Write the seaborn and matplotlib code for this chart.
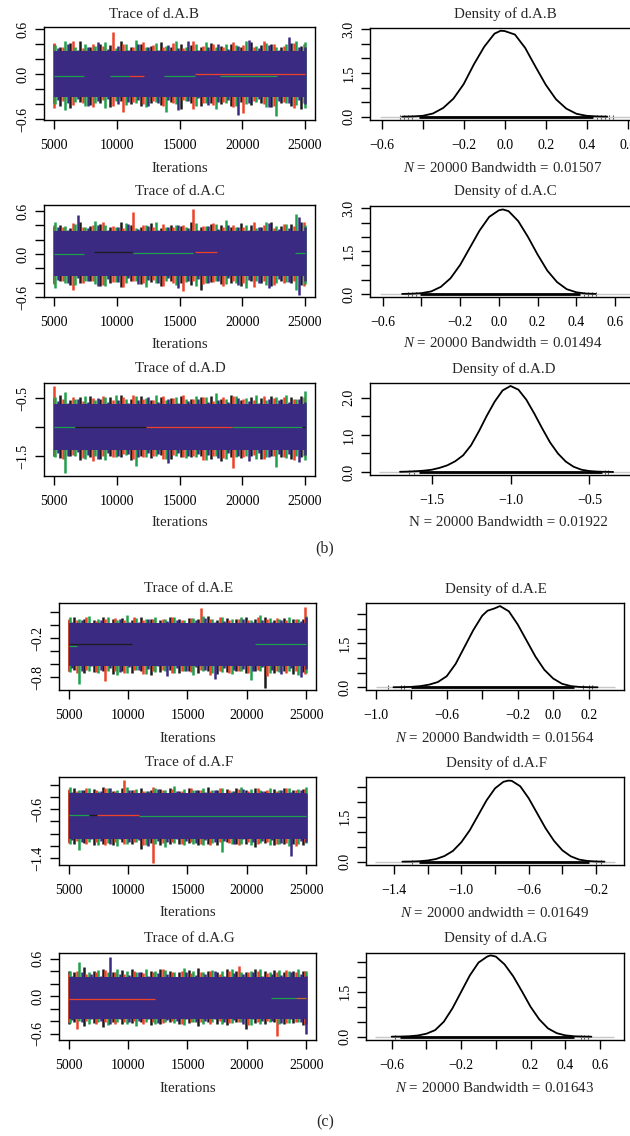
import numpy as np
import matplotlib
matplotlib.use("Agg")
import matplotlib.pyplot as plt
import seaborn as sns

W, H, DPI = 630, 1136, 100

# ---------------- data ----------------
ITER = list(range(5000, 25001, 800))   # 26 sample columns along each chain

# d.A.B
B_CORE = (-0.30, 0.31)                  # solid band where all chains overlap
B_K_HI = [0.40,0.36,0.42,0.45,0.37,0.41,0.39,0.44,0.36,0.40,0.38,0.43,0.37,0.41,0.39,0.36,0.42,0.38,0.40,0.37,0.43,0.39,0.41,0.36,0.42,0.38]
B_K_LO = [-0.38,-0.42,-0.45,-0.37,-0.41,-0.39,-0.44,-0.36,-0.40,-0.43,-0.38,-0.41,-0.37,-0.46,-0.39,-0.42,-0.38,-0.40,-0.43,-0.37,-0.41,-0.39,-0.44,-0.38,-0.42,-0.47]
B_R_HI = [0.42,0.37,0.44,0.35,0.41,0.38,0.56,0.40,0.36,0.43,0.39,0.37,0.42,0.35,0.45,0.38,0.41,0.36,0.43,0.39,0.37,0.44,0.40,0.38,0.42,0.41]
B_R_LO = [-0.45,-0.36,-0.41,-0.38,-0.44,-0.35,-0.42,-0.50,-0.37,-0.40,-0.36,-0.43,-0.39,-0.35,-0.46,-0.38,-0.41,-0.37,-0.44,-0.52,-0.36,-0.40,-0.43,-0.37,-0.45,-0.39]
B_G_HI = [0.39,0.44,0.36,0.41,0.38,0.43,0.35,0.40,0.46,0.37,0.42,0.38,0.44,0.36,0.40,0.43,0.37,0.41,0.39,0.45,0.38,0.42,0.36,0.40,0.44,0.43]
B_G_LO = [-0.40,-0.48,-0.37,-0.42,-0.39,-0.45,-0.36,-0.41,-0.38,-0.44,-0.37,-0.50,-0.40,-0.36,-0.43,-0.39,-0.47,-0.38,-0.42,-0.40,-0.37,-0.44,-0.56,-0.39,-0.41,-0.45]
B_P_HI = [0.35,0.40,0.33,0.37,0.43,0.34,0.38,0.33,0.41,0.36,0.32,0.39,0.35,0.44,0.33,0.37,0.40,0.34,0.38,0.46,0.35,0.39,0.33,0.50,0.37,0.36]
B_P_LO = [-0.34,-0.39,-0.33,-0.43,-0.36,-0.33,-0.40,-0.37,-0.35,-0.42,-0.38,-0.34,-0.48,-0.36,-0.32,-0.41,-0.37,-0.35,-0.54,-0.39,-0.33,-0.44,-0.36,-0.38,-0.35,-0.40]
B_FLAT = [(5000, 7400, -0.03, "green"), (9500, 11000, -0.03, "green"), (11000, 12200, -0.03, "red"),
          (13800, 16200, -0.03, "green"), (16200, 25000, 0.0, "red"), (18200, 22800, -0.03, "green")]

# d.A.C
C_CORE = (-0.31, 0.32)
C_K_HI = [0.38,0.41,0.36,0.44,0.39,0.42,0.37,0.45,0.40,0.38,0.43,0.36,0.41,0.39,0.44,0.37,0.42,0.40,0.38,0.43,0.41,0.37,0.45,0.39,0.42,0.44]
C_K_LO = [-0.40,-0.37,-0.43,-0.41,-0.38,-0.44,-0.40,-0.46,-0.37,-0.42,-0.39,-0.45,-0.38,-0.41,-0.43,-0.50,-0.39,-0.42,-0.40,-0.44,-0.37,-0.41,-0.45,-0.38,-0.40,-0.43]
C_R_HI = [0.41,0.38,0.43,0.37,0.40,0.44,0.39,0.36,0.58,0.41,0.38,0.42,0.37,0.40,0.63,0.39,0.43,0.37,0.41,0.38,0.44,0.40,0.36,0.42,0.39,0.45]
C_R_LO = [-0.42,-0.38,-0.50,-0.40,-0.37,-0.43,-0.39,-0.46,-0.38,-0.41,-0.36,-0.44,-0.40,-0.52,-0.38,-0.42,-0.39,-0.45,-0.37,-0.41,-0.46,-0.38,-0.43,-0.40,-0.37,-0.44]
C_G_HI = [0.44,0.39,0.42,0.37,0.46,0.40,0.38,0.43,0.36,0.41,0.45,0.38,0.40,0.37,0.43,0.39,0.42,0.47,0.38,0.41,0.36,0.44,0.39,0.42,0.56,0.40]
C_G_LO = [-0.48,-0.40,-0.43,-0.38,-0.42,-0.45,-0.39,-0.41,-0.37,-0.46,-0.40,-0.38,-0.43,-0.39,-0.44,-0.41,-0.37,-0.42,-0.40,-0.47,-0.38,-0.43,-0.41,-0.39,-0.50,-0.42]
C_P_HI = [0.37,0.34,0.55,0.36,0.40,0.33,0.38,0.42,0.35,0.39,0.34,0.37,0.41,0.36,0.33,0.39,0.35,0.40,0.37,0.34,0.38,0.43,0.35,0.36,0.52,0.38]
C_P_LO = [-0.36,-0.41,-0.34,-0.38,-0.45,-0.35,-0.39,-0.33,-0.42,-0.36,-0.40,-0.34,-0.47,-0.37,-0.35,-0.41,-0.38,-0.34,-0.43,-0.36,-0.40,-0.48,-0.35,-0.39,-0.57,-0.37]
C_FLAT = [(5000, 7400, 0.0, "green"), (8200, 11200, 0.03, "black"), (11300, 16100, 0.01, "green"),
          (16200, 18000, 0.03, "red"), (24200, 25000, 0.02, "green")]

# d.A.D
D_CORE = (-1.40, -0.60)
D_K_HI = [-0.50,-0.44,-0.53,-0.48,-0.46,-0.52,-0.49,-0.45,-0.51,-0.47,-0.53,-0.48,-0.50,-0.46,-0.52,-0.49,-0.47,-0.51,-0.45,-0.53,-0.48,-0.50,-0.46,-0.52,-0.49,-0.47]
D_K_LO = [-1.49,-1.53,-1.50,-1.56,-1.51,-1.54,-1.49,-1.52,-1.57,-1.50,-1.53,-1.48,-1.55,-1.51,-1.52,-1.50,-1.54,-1.58,-1.51,-1.53,-1.49,-1.55,-1.50,-1.52,-1.54,-1.51]
D_R_HI = [-0.30,-0.52,-0.48,-0.55,-0.50,-0.46,-0.53,-0.49,-0.44,-0.51,-0.54,-0.47,-0.50,-0.45,-0.52,-0.48,-0.55,-0.49,-0.46,-0.51,-0.53,-0.47,-0.50,-0.48,-0.52,-0.49]
D_R_LO = [-1.50,-1.55,-1.48,-1.53,-1.58,-1.49,-1.52,-1.47,-1.55,-1.51,-1.49,-1.54,-1.48,-1.52,-1.50,-1.56,-1.49,-1.53,-1.70,-1.51,-1.48,-1.54,-1.50,-1.52,-1.57,-1.49]
D_G_HI = [-0.48,-0.40,-0.51,-0.46,-0.53,-0.49,-0.44,-0.52,-0.47,-0.50,-0.45,-0.53,-0.48,-0.51,-0.46,-0.49,-0.42,-0.52,-0.47,-0.50,-0.45,-0.53,-0.48,-0.44,-0.51,-0.38]
D_G_LO = [-1.52,-1.78,-1.49,-1.54,-1.50,-1.56,-1.51,-1.48,-1.66,-1.52,-1.50,-1.55,-1.49,-1.53,-1.51,-1.57,-1.50,-1.54,-1.52,-1.49,-1.55,-1.51,-1.68,-1.53,-1.50,-1.56]
D_P_HI = [-0.55,-0.58,-0.52,-0.56,-0.50,-0.57,-0.53,-0.59,-0.54,-0.49,-0.56,-0.52,-0.58,-0.55,-0.51,-0.57,-0.53,-0.56,-0.50,-0.55,-0.58,-0.52,-0.54,-0.57,-0.51,-0.56]
D_P_LO = [-1.45,-1.50,-1.43,-1.48,-1.55,-1.44,-1.49,-1.46,-1.52,-1.45,-1.47,-1.62,-1.44,-1.50,-1.46,-1.48,-1.53,-1.45,-1.49,-1.58,-1.44,-1.51,-1.47,-1.46,-1.60,-1.48]
D_FLAT = [(5000, 6700, -1.0, "green"), (6700, 12300, -0.99, "black"), (12300, 19200, -0.99, "red"),
          (19200, 24800, -0.99, "green"), (24800, 25000, -1.0, "black")]

# d.A.E
E_CORE = (-0.62, 0.03)
E_K_HI = [0.08,0.13,0.10,0.07,0.12,0.09,0.11,0.08,0.13,0.10,0.08,0.12,0.09,0.11,0.10,0.14,0.08,0.11,0.09,0.12,0.10,0.13,0.08,0.11,0.09,0.10]
E_K_LO = [-0.71,-0.69,-0.74,-0.72,-0.70,-0.75,-0.71,-0.73,-0.70,-0.76,-0.72,-0.69,-0.74,-0.71,-0.73,-0.70,-0.75,-0.72,-0.71,-0.74,-0.70,-0.96,-0.73,-0.71,-0.75,-0.72]
E_R_HI = [0.10,0.07,0.12,0.06,0.09,0.11,0.08,0.13,0.07,0.10,0.09,0.12,0.08,0.11,0.26,0.09,0.12,0.07,0.10,0.08,0.13,0.09,0.11,0.07,0.10,0.28]
E_R_LO = [-0.70,-0.74,-0.68,-0.72,-0.85,-0.70,-0.73,-0.69,-0.75,-0.71,-0.68,-0.74,-0.70,-0.72,-0.69,-0.76,-0.71,-0.73,-0.70,-0.74,-0.68,-0.78,-0.71,-0.73,-0.70,-0.75]
E_G_HI = [0.13,0.09,0.14,0.10,0.12,0.08,0.15,0.11,0.09,0.13,0.10,0.12,0.08,0.11,0.14,0.09,0.12,0.10,0.13,0.08,0.16,0.11,0.09,0.12,0.10,0.14]
E_G_LO = [-0.72,-0.90,-0.70,-0.74,-0.71,-0.76,-0.73,-0.69,-0.75,-0.72,-0.70,-0.74,-0.71,-0.77,-0.70,-0.73,-0.72,-0.75,-0.70,-0.84,-0.71,-0.74,-0.72,-0.70,-0.76,-0.73]
E_P_HI = [0.05,0.08,0.03,0.07,0.02,0.10,0.05,0.04,0.09,0.03,0.06,0.08,0.02,0.07,0.11,0.04,0.06,0.03,0.09,0.05,0.07,0.04,0.08,0.03,0.06,0.12]
E_P_LO = [-0.65,-0.70,-0.63,-0.68,-0.66,-0.72,-0.64,-0.69,-0.67,-0.63,-0.78,-0.66,-0.70,-0.64,-0.68,-0.82,-0.65,-0.69,-0.67,-0.71,-0.64,-0.68,-0.75,-0.66,-0.80,-0.67]
E_FLAT = [(5000, 10350, -0.29, "black"), (5000, 5750, -0.32, "green"), (20650, 25000, -0.29, "green")]

# d.A.F
F_CORE = (-1.08, -0.34)
F_K_HI = [-0.28,-0.25,-0.29,-0.27,-0.24,-0.30,-0.26,-0.28,-0.25,-0.29,-0.27,-0.25,-0.30,-0.26,-0.28,-0.24,-0.29,-0.27,-0.26,-0.28,-0.25,-0.30,-0.27,-0.26,-0.29,-0.27]
F_K_LO = [-1.14,-1.17,-1.15,-1.18,-1.16,-1.19,-1.14,-1.17,-1.24,-1.15,-1.18,-1.16,-1.17,-1.15,-1.19,-1.16,-1.18,-1.14,-1.17,-1.16,-1.21,-1.15,-1.18,-1.16,-1.17,-1.19]
F_R_HI = [-0.27,-0.30,-0.25,-0.29,-0.26,-0.31,-0.13,-0.28,-0.30,-0.24,-0.29,-0.27,-0.31,-0.26,-0.28,-0.30,-0.25,-0.29,-0.27,-0.31,-0.26,-0.28,-0.30,-0.25,-0.29,-0.27]
F_R_LO = [-1.15,-1.12,-1.17,-1.14,-1.19,-1.13,-1.16,-1.14,-1.18,-1.47,-1.15,-1.13,-1.17,-1.14,-1.16,-1.19,-1.13,-1.15,-1.18,-1.14,-1.16,-1.13,-1.17,-1.15,-1.20,-1.14]
F_G_HI = [-0.24,-0.28,-0.25,-0.30,-0.26,-0.29,-0.24,-0.27,-0.30,-0.25,-0.28,-0.23,-0.27,-0.29,-0.25,-0.28,-0.26,-0.30,-0.24,-0.27,-0.29,-0.26,-0.28,-0.25,-0.27,-0.24]
F_G_LO = [-1.16,-1.26,-1.14,-1.18,-1.15,-1.20,-1.17,-1.14,-1.19,-1.16,-1.22,-1.15,-1.18,-1.16,-1.19,-1.15,-1.30,-1.17,-1.16,-1.19,-1.15,-1.18,-1.16,-1.20,-1.17,-1.15]
F_P_HI = [-0.32,-0.28,-0.34,-0.30,-0.26,-0.33,-0.29,-0.35,-0.31,-0.27,-0.33,-0.30,-0.36,-0.28,-0.32,-0.29,-0.34,-0.31,-0.27,-0.33,-0.30,-0.35,-0.29,-0.32,-0.28,-0.33]
F_P_LO = [-1.10,-1.14,-1.08,-1.12,-1.16,-1.09,-1.13,-1.10,-1.20,-1.11,-1.14,-1.09,-1.12,-1.15,-1.10,-1.13,-1.11,-1.17,-1.09,-1.14,-1.12,-1.10,-1.15,-1.36,-1.11,-1.13]
F_FLAT = [(5000, 6700, -0.70, "green"), (6700, 7400, -0.70, "black"), (7400, 10900, -0.70, "red"),
          (10900, 25000, -0.71, "green")]

# d.A.G
G_CORE = (-0.36, 0.31)
G_K_HI = [0.41,0.38,0.46,0.40,0.43,0.39,0.42,0.44,0.38,0.41,0.43,0.40,0.39,0.42,0.45,0.40,0.38,0.43,0.41,0.39,0.44,0.40,0.42,0.38,0.41,0.40]
G_K_LO = [-0.44,-0.41,-0.47,-0.43,-0.50,-0.42,-0.45,-0.43,-0.41,-0.46,-0.44,-0.42,-0.45,-0.43,-0.47,-0.41,-0.44,-0.46,-0.42,-0.52,-0.43,-0.45,-0.41,-0.44,-0.43,-0.46]
G_R_HI = [0.37,0.40,0.36,0.39,0.42,0.38,0.36,0.41,0.37,0.39,0.44,0.38,0.40,0.37,0.39,0.41,0.36,0.40,0.48,0.38,0.41,0.37,0.39,0.42,0.38,0.40]
G_R_LO = [-0.42,-0.52,-0.40,-0.44,-0.41,-0.45,-0.42,-0.39,-0.44,-0.41,-0.43,-0.40,-0.45,-0.42,-0.41,-0.44,-0.40,-0.43,-0.41,-0.46,-0.42,-0.40,-0.64,-0.43,-0.41,-0.44]
G_G_HI = [0.40,0.55,0.38,0.42,0.39,0.44,0.41,0.38,0.43,0.40,0.42,0.39,0.45,0.41,0.38,0.42,0.40,0.44,0.39,0.41,0.43,0.38,0.42,0.40,0.44,0.41]
G_G_LO = [-0.43,-0.40,-0.45,-0.42,-0.46,-0.41,-0.44,-0.47,-0.42,-0.45,-0.41,-0.43,-0.46,-0.42,-0.44,-0.41,-0.45,-0.43,-0.42,-0.46,-0.44,-0.41,-0.45,-0.43,-0.42,-0.44]
G_P_HI = [0.33,0.38,0.35,0.32,0.62,0.36,0.34,0.39,0.33,0.37,0.35,0.31,0.38,0.34,0.36,0.40,0.33,0.37,0.35,0.39,0.32,0.36,0.34,0.38,0.35,0.33]
G_P_LO = [-0.38,-0.42,-0.36,-0.40,-0.45,-0.37,-0.41,-0.39,-0.36,-0.43,-0.38,-0.40,-0.37,-0.42,-0.39,-0.36,-0.41,-0.38,-0.44,-0.37,-0.40,-0.39,-0.43,-0.37,-0.41,-0.60]
G_FLAT = [(5000, 12300, -0.04, "red"), (22000, 24100, -0.03, "green"), (24100, 25000, -0.03, "orange")]

# densities
DB_X = [-0.50,-0.45,-0.40,-0.35,-0.30,-0.25,-0.20,-0.15,-0.10,-0.05,-0.02,0.00,0.05,0.10,0.15,0.20,0.25,0.30,0.35,0.40,0.45,0.50]
DB_Y = [0.003,0.01,0.03,0.11,0.30,0.62,1.12,1.80,2.40,2.85,2.95,2.94,2.82,2.36,1.72,1.10,0.60,0.28,0.10,0.03,0.01,0.003]
DC_X = [-0.50,-0.45,-0.40,-0.35,-0.30,-0.25,-0.20,-0.15,-0.10,-0.05,0.00,0.02,0.05,0.10,0.15,0.20,0.25,0.30,0.35,0.40,0.45,0.50]
DC_Y = [0.003,0.01,0.03,0.09,0.25,0.55,1.02,1.62,2.22,2.70,2.93,2.96,2.90,2.55,2.00,1.38,0.82,0.42,0.17,0.06,0.015,0.004]
DD_X = [-1.70,-1.65,-1.60,-1.55,-1.50,-1.45,-1.40,-1.35,-1.30,-1.25,-1.20,-1.15,-1.10,-1.05,-1.00,-0.95,-0.90,-0.85,-0.80,-0.75,-0.70,-0.65,-0.60,-0.55,-0.50,-0.45,-0.40,-0.35]
DD_Y = [0.005,0.01,0.02,0.035,0.06,0.11,0.18,0.29,0.45,0.72,1.10,1.52,1.90,2.20,2.32,2.22,1.95,1.58,1.18,0.80,0.50,0.28,0.14,0.06,0.025,0.01,0.004,0.0]
DE_X = [-0.90,-0.85,-0.80,-0.75,-0.70,-0.65,-0.60,-0.55,-0.50,-0.45,-0.40,-0.37,-0.33,-0.30,-0.25,-0.20,-0.15,-0.10,-0.05,0.00,0.05,0.10,0.15,0.20,0.25]
DE_Y = [0.003,0.006,0.015,0.04,0.09,0.18,0.38,0.80,1.38,1.96,2.45,2.62,2.70,2.78,2.60,2.15,1.60,1.05,0.60,0.30,0.12,0.04,0.012,0.004,0.001]
DF_X = [-1.35,-1.30,-1.25,-1.20,-1.15,-1.10,-1.05,-1.00,-0.95,-0.90,-0.85,-0.80,-0.75,-0.72,-0.70,-0.65,-0.60,-0.55,-0.50,-0.45,-0.40,-0.35,-0.30,-0.25,-0.20,-0.15]
DF_Y = [0.002,0.005,0.015,0.04,0.09,0.19,0.36,0.65,1.05,1.55,2.05,2.45,2.67,2.71,2.70,2.52,2.12,1.62,1.12,0.70,0.38,0.18,0.07,0.025,0.008,0.002]
DG_X = [-0.60,-0.55,-0.50,-0.45,-0.40,-0.35,-0.30,-0.25,-0.20,-0.15,-0.10,-0.05,-0.03,0.00,0.05,0.10,0.15,0.20,0.25,0.30,0.35,0.40,0.45,0.50,0.55]
DG_Y = [0.002,0.005,0.015,0.04,0.10,0.22,0.50,0.95,1.50,2.05,2.48,2.68,2.72,2.68,2.42,2.02,1.52,1.00,0.58,0.28,0.12,0.045,0.015,0.005,0.001]

# extent of the zero line, dense rug and sparse rug points
DB_BASE, DB_RUG, DB_TAIL = (-0.607, 0.70), (-0.42, 0.43), [-0.51, -0.49, -0.47, -0.45, 0.45, 0.47, 0.49, 0.51, 0.53]
DC_BASE, DC_RUG, DC_TAIL = (-0.614, 0.75), (-0.41, 0.42), [-0.47, -0.45, -0.43, 0.44, 0.46, 0.48, 0.50]
DD_BASE, DD_RUG, DD_TAIL = (-1.83, -0.15), (-1.58, -0.42), [-1.64, -1.61, -0.40, -0.38]
DE_BASE, DE_RUG, DE_TAIL = (-1.0, 0.347), (-0.80, 0.12), [-0.93, -0.86, -0.84, 0.17, 0.20, 0.22]
DF_BASE, DF_RUG, DF_TAIL = (-1.51, -0.087), (-1.25, -0.24), [-1.29, -0.20, -0.17]
DG_BASE, DG_RUG, DG_TAIL = (-0.695, 0.682), (-0.55, 0.45), [-0.58, 0.49, 0.51, 0.53]

# ---------------- style ----------------
sns.set_theme(style="ticks")
plt.rcParams.update({
    "font.family": ["Liberation Serif", "DejaVu Serif"],
    "mathtext.fontset": "custom",
    "mathtext.rm": "Liberation Serif",
    "mathtext.it": "Liberation Serif:italic",
    "axes.linewidth": 1.0,
    "axes.edgecolor": "black",
    "xtick.major.size": 6.5, "ytick.major.size": 6.5,
    "xtick.major.width": 1.0, "ytick.major.width": 1.0,
    "xtick.direction": "out", "ytick.direction": "out",
    "xtick.color": "black", "ytick.color": "black",
    "xtick.labelsize": 10, "ytick.labelsize": 10,
    "xtick.major.pad": 7, "ytick.major.pad": 4,
    "axes.unicode_minus": True,
})
TXT = 10.8
CHAIN_COLORS = {"black": "#1c1c1c", "red": "#ec4228", "green": "#1fa04c", "purple": "#3b2a82", "orange": "#c0702a"}
CHAIN_SHIFT = {"black": -300, "red": -100, "green": 100, "purple": 300}

fig = plt.figure(figsize=(W / DPI, H / DPI), dpi=DPI)
fig.patch.set_facecolor("white")


def add_ax(x0, y0, x1, y1):
    return fig.add_axes([x0 / W, 1 - y1 / H, (x1 - x0) / W, (y1 - y0) / H])


def ftext(x, y, s, size=TXT):
    fig.text(x / W, 1 - y / H, s, ha="center", va="center", fontsize=size)


def fmt(v):
    return ("%.1f" % v).replace("-", "\u2212")


def set_ticks(ax, axis, ticks, labeled):
    labels = [fmt(t) if any(abs(t - l) < 1e-9 for l in labeled) else "" for t in ticks]
    if axis == "x":
        ax.set_xticks(ticks)
        ax.set_xticklabels(labels)
    else:
        ax.set_yticks(ticks)
        ax.set_yticklabels(labels, rotation=90, va="center")


def draw_trace(box, ylim, core, chains, flats, yt, ylab, title, tpos, lpos):
    ax = add_ax(*box)
    for name in ["black", "red", "green", "purple"]:
        hi, lo = chains[name]
        x = np.clip(np.array(ITER) + CHAIN_SHIFT[name], 5000, 25000)
        ax.vlines(x, lo, hi, color=CHAIN_COLORS[name], lw=1.8, zorder=2)
    ax.fill_between([5000, 25000], [core[0]] * 2, [core[1]] * 2, color=CHAIN_COLORS["purple"], lw=0, zorder=3)
    for s, e, v, c in flats:
        ax.hlines(v, s, e, color=CHAIN_COLORS[c], lw=0.9, zorder=4)
    ax.set_xlim(4200, 25800)
    ax.set_ylim(*ylim)
    ax.set_xticks([5000, 10000, 15000, 20000, 25000])
    ax.set_xticklabels(["5000", "10000", "15000", "20000", "25000"])
    set_ticks(ax, "y", yt, ylab)
    for sp in ax.spines.values():
        sp.set_visible(True)
    ftext(*tpos, title)
    ftext(*lpos, "Iterations")
    return ax


def draw_density(box, xlim, ylim, xs, ys, base, rug, tail, xt, xlab, yt, ylab, title, tpos, label, lpos):
    ax = add_ax(*box)
    ax.hlines(0, base[0], base[1], color="#c8c8c8", lw=1.0)
    ax.hlines(0, rug[0], rug[1], color="black", lw=2.0)
    ax.scatter(tail, [0] * len(tail), marker="|", s=10, color="#444444", linewidths=0.8)
    sns.lineplot(x=xs, y=ys, ax=ax, color="black", lw=1.3, estimator=None, sort=False, legend=False)
    ax.set_xlim(*xlim)
    ax.set_ylim(*ylim)
    set_ticks(ax, "x", xt, xlab)
    set_ticks(ax, "y", yt, ylab)
    for sp in ax.spines.values():
        sp.set_visible(True)
    ftext(*tpos, title)
    ftext(*lpos, label)
    return ax


def chains(p):
    g = globals()
    return {"black": (g[p + "_K_HI"], g[p + "_K_LO"]), "red": (g[p + "_R_HI"], g[p + "_R_LO"]),
            "green": (g[p + "_G_HI"], g[p + "_G_LO"]), "purple": (g[p + "_P_HI"], g[p + "_P_LO"])}


t06 = [-0.6, -0.4, -0.2, 0.0, 0.2, 0.4, 0.6]
# trace panels
draw_trace((44, 27, 315, 120), (-0.613, 0.631), B_CORE, chains("B"), B_FLAT, t06, [-0.6, 0.0, 0.6],
           "Trace of d.A.B", (154, 14), (179.5, 168))
draw_trace((44, 205, 315, 297), (-0.60, 0.684), C_CORE, chains("C"), C_FLAT, t06, [-0.6, 0.0, 0.6],
           "Trace of d.A.C", (180, 191.5), (179.5, 344))
draw_trace((44, 383, 315, 476), (-1.84, -0.241), D_CORE, chains("D"), D_FLAT, [-1.5, -1.0, -0.5], [-1.5, -0.5],
           "Trace of d.A.D", (180, 369), (179.5, 523))
draw_trace((59, 603, 316, 690), (-0.993, 0.337), E_CORE, chains("E"), E_FLAT, [-0.8, -0.6, -0.4, -0.2, 0.0, 0.2], [-0.8, -0.2],
           "Trace of d.A.E", (189, 589), (188, 738))
draw_trace((59, 777, 316, 865), (-1.508, -0.076), F_CORE, chains("F"), F_FLAT, [-1.4, -1.2, -1.0, -0.8, -0.6, -0.4, -0.2], [-1.4, -0.6],
           "Trace of d.A.F", (189, 763), (188, 913))
draw_trace((59, 953, 316, 1040), (-0.70, 0.69), G_CORE, chains("G"), G_FLAT, t06, [-0.6, 0.0, 0.6],
           "Trace of d.A.G", (189, 938), (188, 1088))

# density panels
y30 = [0.0, 0.5, 1.0, 1.5, 2.0, 2.5, 3.0]
y25 = [0.0, 0.5, 1.0, 1.5, 2.0, 2.5]
draw_density((370, 27.5, 640, 120), (-0.657, 0.66), (-0.113, 3.062), DB_X, DB_Y, DB_BASE, DB_RUG, DB_TAIL,
             t06, [-0.6, -0.2, 0.0, 0.2, 0.4, 0.6], y30, [0.0, 1.5, 3.0],
             "Density of d.A.B", (505, 14), "$N$ = 20000 Bandwidth = 0.01507", (503, 168))
draw_density((370, 206, 640, 297), (-0.666, 0.729), (-0.105, 3.08), DC_X, DC_Y, DC_BASE, DC_RUG, DC_TAIL,
             t06, [-0.6, -0.2, 0.0, 0.2, 0.4, 0.6], y30, [0.0, 1.5, 3.0],
             "Density of d.A.C", (505, 191.5), "$N$ = 20000 Bandwidth = 0.01494", (503, 343))
draw_density((370, 383, 640, 475.5), (-1.89, -0.18), (-0.095, 2.40), DD_X, DD_Y, DD_BASE, DD_RUG, DD_TAIL,
             [-1.5, -1.0, -0.5], [-1.5, -1.0, -0.5], [0.0, 0.5, 1.0, 1.5, 2.0], [0.0, 1.0, 2.0],
             "Density of d.A.D", (504, 369), "N = 20000 Bandwidth = 0.01922", (508, 523))
draw_density((366, 603, 624, 690), (-1.055, 0.399), (-0.092, 2.884), DE_X, DE_Y, DE_BASE, DE_RUG, DE_TAIL,
             [-1.0, -0.8, -0.6, -0.4, -0.2, 0.0, 0.2], [-1.0, -0.6, -0.2, 0.0, 0.2], y25, [0.0, 1.5],
             "Density of d.A.E", (496, 589), "$N$ = 20000 Bandwidth = 0.01564", (495, 738))
draw_density((366, 777, 624, 865), (-1.566, -0.034), (-0.11, 2.83), DF_X, DF_Y, DF_BASE, DF_RUG, DF_TAIL,
             [-1.4, -1.2, -1.0, -0.8, -0.6, -0.4, -0.2], [-1.4, -1.0, -0.6, -0.2], y25, [0.0, 1.5],
             "Density of d.A.F", (496, 763), "$N$ = 20000 andwidth = 0.01649", (495, 913))
draw_density((366, 953, 624, 1040), (-0.748, 0.738), (-0.11, 2.80), DG_X, DG_Y, DG_BASE, DG_RUG, DG_TAIL,
             t06, [-0.6, -0.2, 0.2, 0.4, 0.6], y25, [0.0, 1.5],
             "Density of d.A.G", (496, 938), "$N$ = 20000 Bandwidth = 0.01643", (495, 1088))

ftext(325, 548, "(b)", size=11.5)
ftext(325, 1122, "(c)", size=11.5)

fig.savefig("out.png", dpi=DPI, facecolor="white")
